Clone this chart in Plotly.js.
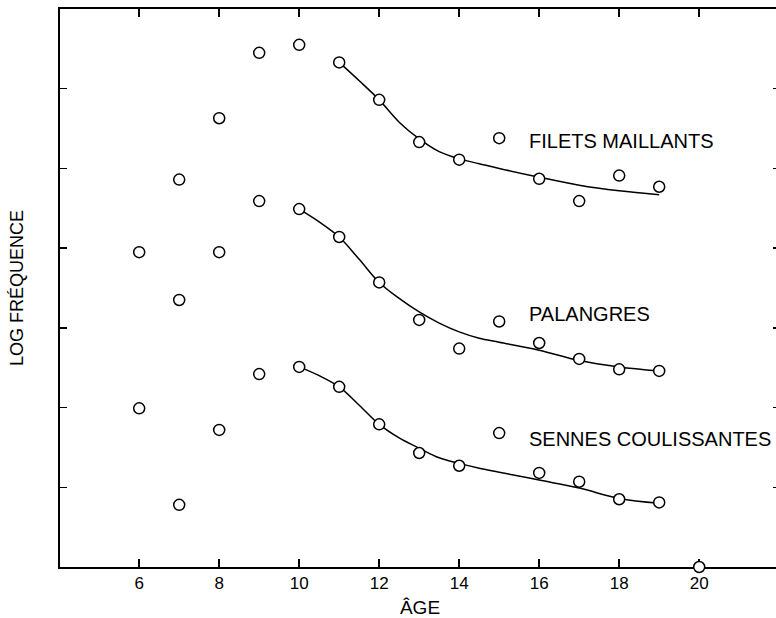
<!DOCTYPE html>
<html>
<head>
<meta charset="utf-8">
<script src="https://cdn.plot.ly/plotly-3.0.1.min.js"></script>
<style>
html, body { margin: 0; padding: 0; overflow: hidden; background: #fff; }
#chart { width: 780px; height: 618px; }
</style>
</head>
<body>
<div id="chart"></div>
<script>
// Observed points (age, log frequency)
var agesFilets = [7, 8, 9, 10, 11, 12, 13, 14, 15, 16, 17, 18, 19];
var logFilets = [4.86, 5.63, 6.45, 6.55, 6.33, 5.86, 5.33, 5.11, 5.38, 4.87, 4.59, 4.91, 4.77];

var agesPalangres = [6, 7, 8, 9, 10, 11, 12, 13, 14, 15, 16, 17, 18, 19];
var logPalangres = [3.95, 3.35, 3.95, 4.59, 4.49, 4.14, 3.57, 3.10, 2.74, 3.08, 2.81, 2.61, 2.48, 2.46];

var agesSennes = [6, 7, 8, 9, 10, 11, 12, 13, 14, 15, 16, 17, 18, 19, 20];
var logSennes = [1.99, 0.78, 1.72, 2.42, 2.51, 2.26, 1.79, 1.43, 1.27, 1.68, 1.18, 1.07, 0.85, 0.81, 0.0];

// Fitted curves
var curveAgesFilets = [11, 11.5, 12, 12.5, 13, 13.5, 14, 14.5, 15, 16, 17, 18, 19];
var curveFilets = [6.33, 6.10, 5.86, 5.58, 5.37, 5.21, 5.12, 5.06, 5.00, 4.89, 4.79, 4.72, 4.67];

var curveAgesPalangres = [10, 10.5, 11, 11.5, 12, 12.5, 13, 13.5, 14, 14.5, 15, 16, 17, 18, 19];
var curvePalangres = [4.49, 4.33, 4.14, 3.86, 3.57, 3.37, 3.20, 3.06, 2.95, 2.87, 2.82, 2.72, 2.59, 2.51, 2.46];

var curveAgesSennes = [10, 10.5, 11, 11.5, 12, 12.5, 13, 13.5, 14, 14.5, 15, 16, 17, 18, 19];
var curveSennes = [2.51, 2.40, 2.26, 2.03, 1.79, 1.62, 1.49, 1.37, 1.30, 1.24, 1.19, 1.09, 0.99, 0.86, 0.80];

// Labels
var seriesLabels = ["FILETS MAILLANTS", "PALANGRES", "SENNES COULISSANTES"];
var labelY = [5.345, 3.174, 1.606];
var xTicks = [6, 8, 10, 12, 14, 16, 18, 20];
var yTicks = [1, 2, 3, 4, 5, 6];

var FONT = "'Liberation Sans', Arial, Helvetica, sans-serif";

function curve(x, y) {
  return { x: x, y: y, type: 'scatter', mode: 'lines', hoverinfo: 'skip',
           line: { color: '#000', width: 1.5, shape: 'spline', smoothing: 1 } };
}
function pts(x, y) {
  return { x: x, y: y, type: 'scatter', mode: 'markers', cliponaxis: false,
           marker: { symbol: 'circle', size: 11, color: '#fff', line: { color: '#000', width: 1.5 } } };
}

var data = [
  curve(curveAgesFilets, curveFilets),
  curve(curveAgesPalangres, curvePalangres),
  curve(curveAgesSennes, curveSennes),
  pts(agesFilets, logFilets),
  pts(agesPalangres, logPalangres),
  pts(agesSennes, logSennes)
];

var annotations = seriesLabels.map(function (t, i) {
  return { x: 15.7, y: labelY[i], xref: 'x', yref: 'y', text: t, showarrow: false,
           xanchor: 'left', yanchor: 'middle', font: { family: FONT, size: 20, color: '#000' } };
});

var layout = {
  width: 780, height: 618,
  margin: { l: 60, r: 0, t: 9, b: 51 },
  paper_bgcolor: '#fff', plot_bgcolor: '#fff',
  showlegend: false,
  font: { family: FONT, color: '#000' },
  xaxis: {
    range: [4.02, 22.02], tickvals: xTicks, ticktext: xTicks.map(String),
    ticks: 'inside', ticklen: 8, tickwidth: 1.5, tickcolor: '#000',
    showline: true, linewidth: 2, linecolor: '#000', mirror: 'ticks',
    showgrid: false, zeroline: false, layer: 'below traces',
    tickfont: { family: FONT, size: 17, color: '#000' },
    title: { text: 'ÂGE', font: { family: FONT, size: 19, color: '#000' }, standoff: 8 }
  },
  yaxis: {
    range: [0, 7], tickvals: yTicks, showticklabels: false,
    ticks: 'inside', ticklen: 7, tickwidth: 1.5, tickcolor: '#000',
    showline: true, linewidth: 2, linecolor: '#000', mirror: 'ticks',
    showgrid: false, zeroline: false, layer: 'below traces',
    title: { text: 'LOG FRÉQUENCE', font: { family: FONT, size: 18, color: '#000' }, standoff: 30 }
  },
  annotations: annotations
};

Plotly.newPlot('chart', data, layout, { displayModeBar: false, staticPlot: true });
</script>
</body>
</html>
